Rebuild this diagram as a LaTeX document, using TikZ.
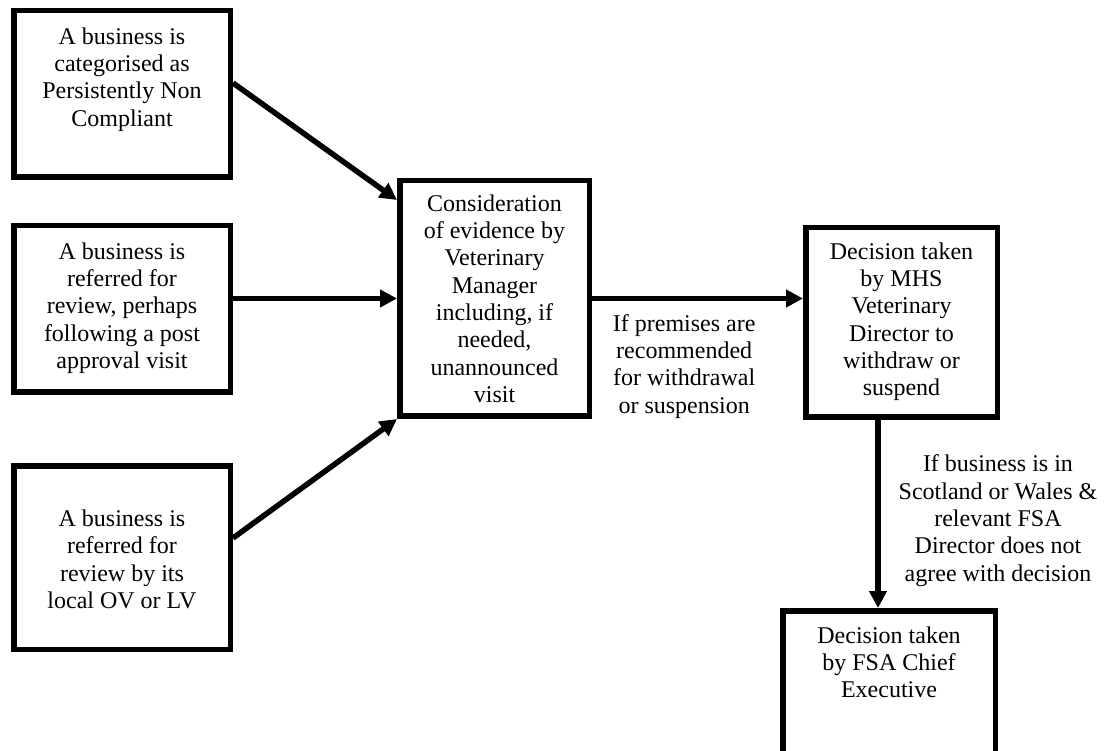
\documentclass[tikz,border=0pt]{standalone}
\usepackage{fontspec}
\setmainfont{Liberation Serif}
\usetikzlibrary{arrows.meta}
\begin{document}
\begin{tikzpicture}[x=1pt,y=-1pt,
  box/.style={draw=black, line width=5.5pt, inner sep=0pt, outer sep=2.75pt},
  txt/.style={font=\fontsize{24}{27.3}\selectfont, align=center, inner sep=0pt},
  arr/.style={line width=5.5pt, -{Triangle[length=17pt,width=17pt]}}]
  \useasboundingbox (0,0) rectangle (1104,751);
  \fill[white] (0,0) rectangle (1104,751);
  \clip (0,0) rectangle (1104,751);

  % boxes
  \node[box, minimum width=216.5pt, minimum height=166.5pt] (A) at (122,94) {};
  \node[box, minimum width=216.5pt, minimum height=166.5pt] (B) at (122,309) {};
  \node[box, minimum width=216.5pt, minimum height=183.5pt] (C) at (122,557.5) {};
  \node[box, minimum width=189.5pt, minimum height=235.5pt] (D) at (494.5,298.5) {};
  \node[box, minimum width=191.5pt, minimum height=189.5pt] (E) at (901.5,322.5) {};
  \node[box, minimum width=212.5pt, minimum height=186.5pt] (F) at (889,704) {};

  % box texts
  \node[txt, anchor=north] (At) at ([yshift=-19.5pt]A.north)
    {A business is\\categorised as\\Persistently Non\\Compliant};
  \node[txt, anchor=north] (Bt) at ([yshift=-19.5pt]B.north)
    {A business is\\referred for\\review, perhaps\\following a post\\approval visit};
  \node[txt] (Ct) at ([yshift=-2pt]C.center)
    {A business is\\referred for\\review by its\\local OV or LV};
  \node[txt, anchor=north] (Dt) at ([yshift=-16.5pt]D.north)
    {Consideration\\of evidence by\\Veterinary\\Manager\\including, if\\needed,\\unannounced\\visit};
  \node[txt, anchor=north] (Et) at ([yshift=-17.5pt]E.north)
    {Decision taken\\by MHS\\Veterinary\\Director to\\withdraw or\\suspend};
  \node[txt, anchor=north] (Ft) at ([yshift=-18.5pt]F.north)
    {Decision taken\\by FSA Chief\\Executive};

  % connectors
  \draw[arr] ([yshift=11pt]A.east) -- ([yshift=98.5pt]D.west);
  \draw[arr] (B.east |- D.west) -- (D.west);
  \draw[arr] ([yshift=19.5pt]C.east) -- (D.south west);
  \draw[arr] (D.east) -- (D.east -| E.west)
    node[txt, pos=0.437, anchor=north, yshift=-13pt] (L1)
    {If premises are\\recommended\\for withdrawal\\or suspension};
  \draw[arr] ([xshift=-23.5pt]E.south) coordinate (ef) -- (ef |- F.north)
    node[txt, pos=0.535, xshift=120pt] (L2)
    {If business is in\\Scotland or Wales \&\\relevant FSA\\Director does not\\agree with decision};
\end{tikzpicture}
\end{document}
